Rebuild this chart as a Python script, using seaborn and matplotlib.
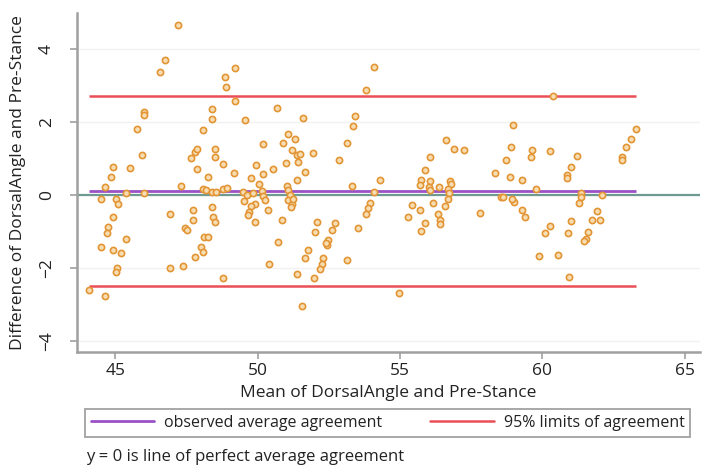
import matplotlib
matplotlib.use("Agg")
import matplotlib.pyplot as plt
from matplotlib.lines import Line2D
import numpy as np
import pandas as pd
import seaborn as sns

# Bland-Altman data: mean of the two measurements and their difference
mean_angle = [
    47.20, 46.76, 46.56, 46.00, 46.00, 45.76, 45.95, 44.91, 45.52, 44.83,
    44.62, 44.50, 45.03, 45.09, 45.38, 45.99, 47.32, 44.91, 44.74, 44.71,
    45.38, 44.50, 44.91, 45.21, 45.06, 45.01, 44.09, 44.62, 46.93, 47.38,
    46.93, 47.44, 47.50, 47.79, 48.02, 48.08, 48.11, 48.26, 47.71, 47.73,
    48.38, 48.44, 48.49, 47.67, 47.79, 47.85, 47.85, 48.26, 48.08, 48.41,
    48.41, 48.49, 48.49, 48.08, 48.20, 48.38, 48.55,
    49.20, 48.85, 48.90, 49.20, 50.69, 49.55, 51.58, 53.42, 53.34, 50.20,
    50.90, 51.08, 51.31, 51.19, 51.37, 51.43, 51.49, 51.93, 50.99, 52.87,
    53.15, 48.79, 49.16, 49.94, 50.17, 50.55, 49.75, 50.05, 51.66, 51.37,
    51.02, 48.79, 48.93, 53.31, 49.49, 49.61, 49.52, 49.84, 50.14, 50.20,
    50.25, 49.90, 49.75, 49.70, 49.67, 49.90, 50.37, 51.08, 51.13, 51.08,
    51.19, 51.23, 51.16, 50.84, 52.07, 52.72, 52.02, 52.60, 52.48, 52.43,
    52.40, 50.72, 51.75, 51.66, 52.31, 52.25, 52.19, 53.15, 50.41, 51.39,
    51.96, 48.79, 51.55, 53.54,
    54.09, 53.81, 54.28, 54.07, 53.95, 53.86, 53.81, 56.63, 56.91, 57.26,
    56.04, 55.89, 55.74, 56.06, 55.69, 56.01, 56.36, 56.75, 56.79, 56.68,
    56.06, 56.71, 56.68, 56.16, 55.42, 55.69, 56.59, 55.27, 56.32, 56.39,
    56.42, 55.89, 55.74, 57.80, 54.95, 58.35, 58.53,
    60.38, 58.98, 58.91, 58.71, 59.65, 59.61, 60.27, 58.86, 59.29, 59.76,
    58.62, 59.00, 58.94, 59.29, 59.38, 60.27, 60.08, 59.88, 60.55, 60.94,
    61.21, 61.02, 60.88, 60.85, 61.37, 61.35, 61.29, 62.11, 61.91, 61.76,
    62.03, 61.02, 60.90, 61.61, 61.52, 61.46, 63.28, 63.11, 62.93, 62.81,
    62.81,
]
diff_angle = [
    4.66, 3.72, 3.38, 2.28, 2.19, 1.81, 1.10, 0.78, 0.75, 0.50,
    0.23, -0.09, -0.09, -0.23, 0.07, 0.07, 0.25, -0.59, -0.87, -1.03,
    -1.19, -1.43, -1.51, -1.57, -1.98, -2.10, -2.60, -2.77, -1.98, -1.94,
    -0.52, -0.91, -0.96, -1.69, -1.42, -1.55, -1.14, -1.14, -0.41, -0.68,
    -0.32, -0.59, -0.73, 1.01, 1.19, 1.28, 0.73, 0.50, 1.78, 2.37,
    2.10, 1.28, 1.05, 0.18, 0.14, 0.09, 0.09,
    3.50, 3.24, 2.97, 2.59, 2.40, 2.06, 2.13, 2.17, 1.89, 1.40,
    1.44, 1.67, 1.55, 1.23, 1.10, 0.91, 1.12, 1.16, 0.89, 0.96,
    1.42, 0.87, 0.61, 0.82, 0.58, 0.71, 0.47, 0.30, 0.64, 0.41,
    0.26, 0.16, 0.21, 0.25, 0.09, 0.00, -0.15, 0.05, 0.12, -0.03,
    -0.14, -0.23, -0.30, -0.46, -0.55, -0.73, -0.41, 0.14, 0.00, -0.14,
    -0.23, -0.09, -0.32, -0.67, -0.73, -0.77, -1.00, -0.96, -1.23, -1.37,
    -1.30, -1.28, -1.49, -1.73, -1.73, -1.87, -2.01, -1.78, -1.89, -2.15,
    -2.28, -2.28, -3.04, -0.91,
    3.52, 2.88, 0.43, 0.09, -0.21, -0.36, -0.50, 1.51, 1.28, 1.25,
    1.05, 0.70, 0.43, 0.40, 0.28, 0.23, 0.23, 0.40, 0.30, 0.18,
    0.14, 0.07, -0.09, -0.21, -0.27, -0.41, -0.30, -0.59, -0.52, -0.68,
    -0.79, -0.77, -0.98, -0.48, -2.67, 0.60, -0.04,
    2.71, 1.92, 1.31, 0.98, 1.23, 1.05, 1.22, 0.50, 0.43, 0.16,
    -0.05, -0.18, -0.09, -0.39, -0.59, -0.85, -1.03, -1.67, -1.64, -2.24,
    1.07, 0.78, 0.55, 0.46, 0.07, -0.05, -0.21, 0.00, -0.43, -0.67,
    -0.68, -0.70, -1.03, -1.00, -1.21, -1.25, 1.83, 1.53, 1.31, 1.05,
    0.98,
]

# Agreement statistics
mean_difference = 0.12
limits_of_agreement = [-2.49, 2.73]

x_ticks = [45, 50, 55, 60, 65]
y_ticks = [-4, -2, 0, 2, 4]

x_label = "Mean of DorsalAngle and Pre-Stance"
y_label = "Difference of DorsalAngle and Pre-Stance"
legend_labels = ["observed average agreement", "95% limits of agreement"]
note_text = "y = 0 is line of perfect average agreement"

df = pd.DataFrame({"mean": mean_angle, "diff": diff_angle})

sns.set_theme(style="white")
plt.rcParams["font.family"] = ["Open Sans", "DejaVu Sans"]
plt.rcParams["axes.unicode_minus"] = True

fig = plt.figure(figsize=(7.06, 4.71), dpi=100)
ax = fig.add_axes([0.109, 0.253, 0.883, 0.719])

# faint horizontal grid at the y ticks
for yt in y_ticks:
    ax.axhline(yt, color="#f1f1f1", lw=1.0, zorder=0)

# reference line of perfect agreement
ax.axhline(0, color="#6f9a92", lw=1.6, zorder=1)

sns.scatterplot(
    data=df, x="mean", y="diff", ax=ax,
    marker="o", s=20, facecolor="#f7ddb2", edgecolor="#e39536",
    linewidth=1.2, zorder=3, legend=False,
)

x_lo, x_hi = df["mean"].min(), df["mean"].max()
purple = "#9a52c4"
red = "#ea4f57"
ax.hlines(mean_difference, x_lo, x_hi, color=purple, lw=2.0, zorder=2)
ax.hlines(limits_of_agreement, x_lo, x_hi, color=red, lw=1.8, zorder=2)

ax.set_xlim(43.65, 65.55)
ax.set_ylim(-4.29, 4.99)
ax.set_xticks(x_ticks)
ax.set_yticks(y_ticks)

for side in ("top", "right"):
    ax.spines[side].set_visible(False)
for side in ("left", "bottom"):
    ax.spines[side].set_color("#a0a0a0")
    ax.spines[side].set_linewidth(1.8)

ax.tick_params(axis="both", direction="out", length=5, width=1.2,
               color="#a0a0a0", labelsize=12.5, labelcolor="#222222",
               bottom=True, left=True, pad=3)
ax.tick_params(axis="y", labelrotation=90, pad=11)
for lab in ax.get_yticklabels():
    lab.set_verticalalignment("center")

ax.set_xlabel(x_label, fontsize=12.5, color="#222222", labelpad=4)
ax.set_ylabel(y_label, fontsize=12.5, color="#222222", labelpad=9)

handles = [
    Line2D([], [], color=purple, lw=2.0),
    Line2D([], [], color=red, lw=1.8),
]
leg = fig.legend(
    handles, legend_labels, ncol=2, loc="center", mode="expand",
    bbox_to_anchor=(85 / 706, 1 - 438 / 471, 605 / 706, 30 / 471),
    borderaxespad=0.0,
    fontsize=11.5, handlelength=4.0, handletextpad=0.6, columnspacing=1.0,
    frameon=True, fancybox=False, borderpad=0.35,
)
leg.get_frame().set_edgecolor("#8a8a8a")
leg.get_frame().set_linewidth(1.3)
for t in leg.get_texts():
    t.set_color("#222222")

fig.text(86 / 706, 1 - 457 / 471, note_text, fontsize=12, color="#222222",
         ha="left", va="center")

fig.savefig("out.png", dpi=100, facecolor="white")
